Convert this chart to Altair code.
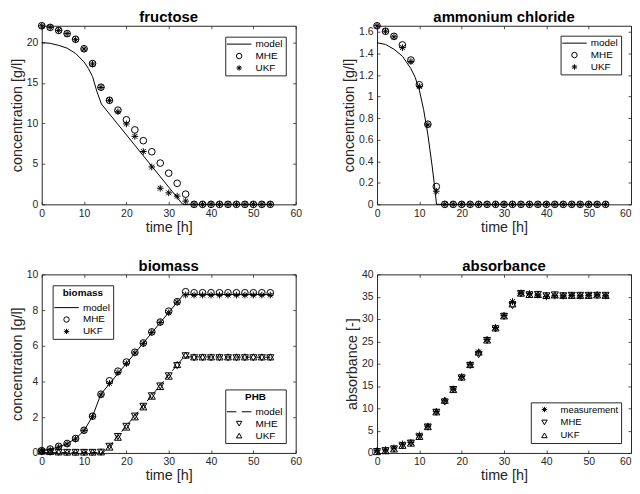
import altair as alt
import pandas as pd

# ---------------- data ----------------
t = [0, 2, 4, 6, 8, 10, 12, 14, 16, 18, 20, 22, 24, 26,
     28, 30, 32, 34, 36, 38, 40, 42, 44, 46, 48, 50, 52, 54]

fru_mhe = [22.07, 21.87, 21.5, 21.1, 20.4, 19.23, 17.4, 14.48, 12.86, 11.64,
           10.45, 9.2, 7.87, 6.5, 5.1, 3.85, 2.6, 1.26, 0, 0,
           0, 0, 0, 0, 0, 0, 0, 0]
fru_ukf = [22.07, 21.87, 21.5, 21.1, 20.35, 19.2, 17.35, 14.45, 12.85, 11.44,
           9.94, 8.4, 6.53, 4.62, 1.99, 1.42, 1.01, 0.4, 0, 0,
           0, 0, 0, 0, 0, 0, 0, 0]
fru_model_t = [0, 2, 4, 6, 8, 10, 11, 12, 13, 14.1, 33.3, 54]
fru_model = [20, 19.9, 19.65, 19.3, 18.65, 17.6, 16.8, 15.8, 14.0, 12.4, 0, 0]

nh4_mhe = [1.658, 1.607, 1.56, 1.48, 1.34, 1.11, 0.744, 0.165, 0, 0,
           0, 0, 0, 0, 0, 0, 0, 0, 0, 0,
           0, 0, 0, 0, 0, 0, 0, 0]
nh4_ukf = [1.658, 1.607, 1.555, 1.455, 1.326, 1.095, 0.738, 0.122, 0, 0,
           0, 0, 0, 0, 0, 0, 0, 0, 0, 0,
           0, 0, 0, 0, 0, 0, 0, 0]
nh4_model_t = [0, 2, 4, 6, 8, 9, 10, 11, 12, 13, 13.5, 14.05, 54]
nh4_model = [1.5, 1.485, 1.44, 1.375, 1.26, 1.18, 1.06, 0.88, 0.65, 0.36, 0.2, 0, 0]

bio_mhe = [0.13, 0.22, 0.37, 0.53, 0.81, 1.27, 2.06, 3.29, 4.04, 4.58,
           5.09, 5.64, 6.16, 6.78, 7.33, 7.94, 8.47, 9.03, 8.97, 8.97,
           8.97, 8.97, 8.97, 8.97, 8.97, 8.97, 8.97, 8.97]
bio_ukf = [0.1, 0.18, 0.33, 0.5, 0.78, 1.25, 2.03, 3.25, 3.9, 4.5,
           5.0, 5.6, 6.12, 6.75, 7.3, 7.85, 8.44, 8.85, 8.84, 8.84,
           8.84, 8.84, 8.84, 8.84, 8.84, 8.84, 8.84, 8.84]
bio_model_t = [0, 2, 4, 6, 8, 10, 12, 14, 33.5, 54]
bio_model = [0.12, 0.2, 0.33, 0.52, 0.8, 1.25, 2.05, 3.3, 8.87, 8.87]

phb_mhe = [0.05, 0.04, 0.03, 0.03, 0.03, 0.03, 0.03, 0.04, 0.37, 0.92,
           1.49, 2.06, 2.61, 3.2, 3.75, 4.32, 4.89, 5.44, 5.33, 5.33,
           5.33, 5.33, 5.33, 5.33, 5.33, 5.33, 5.33, 5.33]
phb_ukf = [0.1, 0.08, 0.06, 0.05, 0.05, 0.05, 0.05, 0.06, 0.33, 0.88,
           1.45, 2.02, 2.58, 3.18, 3.72, 4.3, 4.95, 5.48, 5.38, 5.38,
           5.38, 5.38, 5.38, 5.38, 5.38, 5.38, 5.38, 5.38]
phb_model_t = [0, 14.5, 16, 33.6, 54]
phb_model = [0.02, 0.02, 0.38, 5.38, 5.36]

abs_meas = [0.5, 0.7, 1.1, 2.0, 2.35, 4.0, 6.0, 9.3, 11.7, 14.3,
            17.1, 19.85, 22.6, 25.4, 28.1, 30.8, 33.9, 35.8, 35.7, 35.4,
            35.0, 35.2, 35.2, 35.3, 35.2, 35.3, 35.4, 35.2]
abs_mhe = [0.3, 0.5, 0.9, 1.6, 2.2, 3.6, 5.8, 9.1, 11.4, 14.2,
           16.8, 19.6, 22.0, 25.2, 27.8, 30.6, 33.0, 35.7, 35.4, 35.5,
           35.2, 35.4, 35.2, 35.3, 35.3, 35.3, 35.3, 35.3]
abs_ukf = [0.3, 0.5, 0.9, 1.7, 2.2, 3.7, 5.9, 9.2, 11.8, 14.2,
           17.0, 19.8, 22.6, 25.3, 28.0, 30.7, 33.4, 35.8, 35.5, 35.5,
           35.3, 35.4, 35.3, 35.3, 35.3, 35.3, 35.4, 35.3]

x_ticks = [0, 10, 20, 30, 40, 50, 60]
fru_ticks = [0, 5, 10, 15, 20]
nh4_ticks = [0, 0.2, 0.4, 0.6, 0.8, 1, 1.2, 1.4, 1.6]
bio_ticks = [0, 2, 4, 6, 8, 10]
abs_ticks = [0, 5, 10, 15, 20, 25, 30, 35, 40]

# ---------------- style ----------------
FONT = "Liberation Sans"
DARK = "#262626"
WL, WR, H = 256, 256, 180
LINE_SYM = "M-4.5,0H4.5"
DASH_SYM = "M-4.5,0H-1M1,0H4.5"
STAR = "M0,-1V1M-1,0H1M-0.72,-0.72L0.72,0.72M-0.72,0.72L0.72,-0.72"


def long_df(series):
    rows = []
    for name, ts, vs in series:
        for a, b in zip(ts, vs):
            rows.append({"t": a, "v": b, "s": name})
    return pd.DataFrame(rows)


def tick_axis(orient, values, main, title, pad, tpad=2, flush_last=False):
    kw = dict(orient=orient, values=values, offset=-3, tickSize=3, domain=False,
              grid=False, tickColor=DARK, tickWidth=0.8, labelFont=FONT,
              labelFontSize=10.5, labelColor=DARK, labelPadding=pad, format=".1~f",
              minExtent=0, labelFlush=False)
    if main:
        kw.update(title=title, titleFont=FONT, titleFontSize=14.5,
                  titleFontWeight="normal", titleColor=DARK, titlePadding=tpad)
        if flush_last:
            kw.update(labelAlign={"condition": {"test": "datum.value == 60", "value": "right"},
                                  "value": "center"})
    else:
        kw.update(labels=False, title=None, maxExtent=0)
    return alt.Axis(**kw)


def enc_xy(ydom, yticks, ytitle, mode, right=False):
    if mode == "main":
        xa = tick_axis("bottom", x_ticks, True, "time [h]", 4, tpad=1.5, flush_last=right)
        ya = tick_axis("left", yticks, True, ytitle, 4)
    elif mode == "opp":
        xa = tick_axis("top", x_ticks, False, None, 4)
        ya = tick_axis("right", yticks, False, None, 4)
    else:
        xa = None
        ya = None
    return dict(
        x=alt.X("t:Q", scale=alt.Scale(domain=[0, 60], nice=False, zero=False), axis=xa),
        y=alt.Y("v:Q", scale=alt.Scale(domain=ydom, nice=False, zero=False), axis=ya),
    )


def legend(orient, title=None, offset=11, fs=10):
    kw = dict(orient=orient, offset=offset, strokeColor=DARK, fillColor="white",
              padding=2.5, labelFont=FONT, labelFontSize=fs, labelColor="black",
              symbolSize=30, symbolStrokeWidth=1, symbolStrokeColor="black",
              symbolFillColor="transparent",
              labelOffset=11.5, symbolOffset=6.5, rowPadding=2, cornerRadius=0)
    if title:
        kw.update(title=title, titleFont=FONT, titleFontSize=10, titleFontWeight="bold",
                  titleColor="black", titleAnchor="middle", titlePadding=5)
    else:
        kw.update(title=None)
    return alt.Legend(**kw)


def model_line(df, ydom, yticks, ytitle, mode, dash=False, right=False):
    props = dict(color="black", strokeWidth=1)
    if dash:
        props["strokeDash"] = [6, 4]
    return alt.Chart(df).mark_line(**props).encode(**enc_xy(ydom, yticks, ytitle, mode, right))


def points(df, ydom, yticks, ytitle, mode, domain, rng, leg, size=45, right=False):
    return alt.Chart(df).mark_point(filled=False, color="black", strokeWidth=1,
                                    size=size, opacity=1).encode(
        shape=alt.Shape("s:N", scale=alt.Scale(domain=domain, range=rng), legend=leg),
        **enc_xy(ydom, yticks, ytitle, mode, right))


def panel(layers, title, w):
    return alt.layer(*layers).resolve_axis(x="independent", y="independent").resolve_scale(
        shape="independent").properties(width=w, height=H, title=title)


# fructose
fdom = [0, 22.07]
f_model = long_df([("model", fru_model_t, fru_model)])
f_pts = long_df([("MHE", t, fru_mhe), ("UKF", t, fru_ukf)])
p1 = panel([
    model_line(f_model, fdom, fru_ticks, "concentration [g/l]", "main"),
    points(f_pts, fdom, fru_ticks, "", "opp", ["model", "MHE", "UKF"],
           [LINE_SYM, "circle", STAR], legend("top-right", offset=10.5)),
], "fructose", WL)

# ammonium chloride
ndom = [0, 1.658]
n_model = long_df([("model", nh4_model_t, nh4_model)])
n_pts = long_df([("MHE", t, nh4_mhe), ("UKF", t, nh4_ukf)])
p2 = panel([
    model_line(n_model, ndom, nh4_ticks, "concentration [g/l]", "main", right=True),
    points(n_pts, ndom, nh4_ticks, "", "opp", ["model", "MHE", "UKF"],
           [LINE_SYM, "circle", STAR], legend("top-right", offset=10)),
], "ammonium chloride", WR)

# biomass / PHB
bdom = [0, 10]
b_model = long_df([("model", bio_model_t, bio_model)])
b_pts = long_df([("MHE", t, bio_mhe), ("UKF", t, bio_ukf)])
ph_model = long_df([("model", phb_model_t, phb_model)])
ph_pts = long_df([("MHE", t, phb_mhe), ("UKF", t, phb_ukf)])
p3 = panel([
    model_line(b_model, bdom, bio_ticks, "concentration [g/l]", "main"),
    points(b_pts, bdom, bio_ticks, "", "opp", ["model", "MHE", "UKF"],
           [LINE_SYM, "circle", STAR], legend("top-left", title="biomass", offset=10.5)),
    model_line(ph_model, bdom, bio_ticks, "", "none", dash=True),
    points(ph_pts, bdom, bio_ticks, "", "none", ["model", "MHE", "UKF"],
           [DASH_SYM, "triangle-down", "triangle-up"],
           legend("bottom-right", title="PHB", offset=10.5), size=50),
], "biomass", WL)

# absorbance
adom = [0, 40]
a_meas = long_df([("measurement", t, abs_meas)])
a_est = long_df([("MHE", t, abs_mhe), ("UKF", t, abs_ukf)])
adomain = ["measurement", "MHE", "UKF"]
arange = [STAR, "triangle-down", "triangle-up"]
p4 = alt.layer(
    points(a_meas, adom, abs_ticks, "absorbance [-]", "main", adomain, arange,
           legend("bottom-right", offset=10.5, fs=9.5), size=49, right=True),
    points(a_est, adom, abs_ticks, "", "opp", adomain, arange,
           legend("bottom-right", offset=10.5, fs=9.5), size=50),
).resolve_axis(x="independent", y="independent").properties(width=WR, height=H, title="absorbance")

chart = alt.concat(p1, p2, p3, p4, columns=2, spacing={"row": 70.6, "column": 82},
                   bounds="flush").resolve_scale(shape="independent").properties(
    padding={"left": 0, "top": 0, "right": 0, "bottom": 0}
).configure_view(stroke=DARK, strokeWidth=1).configure_title(
    font=FONT, fontSize=15, fontWeight="bold", color="black", offset=-5
)

chart.save("out.html", embed_options={"renderer": "svg", "actions": False})
